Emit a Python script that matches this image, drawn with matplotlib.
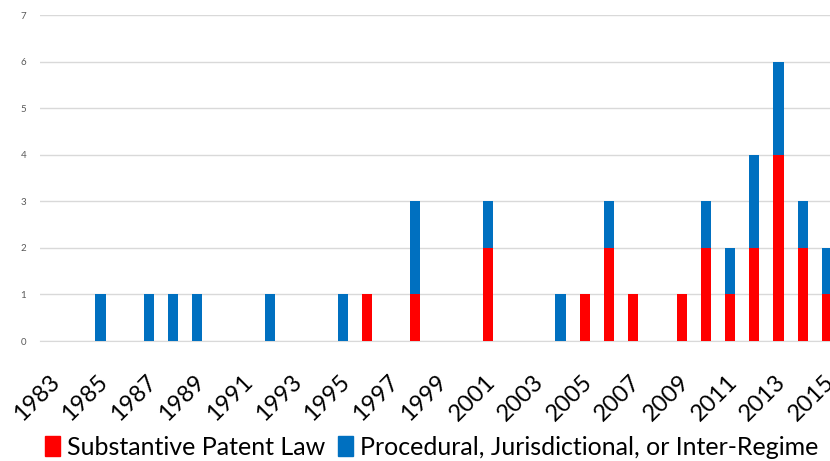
import matplotlib
matplotlib.use("Agg")
import matplotlib.pyplot as plt
import numpy as np
from matplotlib.patches import Patch
from matplotlib.transforms import ScaledTranslation

years = list(range(1983, 2016))
substantive = {1996: 1, 1998: 1, 2001: 2, 2005: 1, 2006: 2, 2007: 1, 2009: 1,
               2010: 2, 2011: 1, 2012: 2, 2013: 4, 2014: 2, 2015: 1}
procedural = {1985: 1, 1987: 1, 1988: 1, 1989: 1, 1992: 1, 1995: 1, 1998: 2,
              2001: 1, 2004: 1, 2006: 1, 2010: 1, 2011: 1, 2012: 2, 2013: 2,
              2014: 1, 2015: 1}
red_vals = np.array([substantive.get(y, 0) for y in years])
blue_vals = np.array([procedural.get(y, 0) for y in years])
xtick_labels = [str(y) for y in years[::2]]
series_names = ["Substantive Patent Law", "Procedural, Jurisdictional, or Inter-Regime"]

RED = "#FF0000"
BLUE = "#0070C0"
font = ["Lato", "DejaVu Sans"]

fig = plt.figure(figsize=(8.30, 4.61), dpi=100)
ax = fig.add_axes([40/830, 120/461, 799/830, 326/461])

x = np.arange(len(years))
ax.bar(x, red_vals, width=0.42, color=RED, zorder=3)
ax.bar(x, blue_vals, width=0.42, bottom=red_vals, color=BLUE, zorder=3)

ax.set_xlim(-0.5, len(years) - 0.5)
ax.set_ylim(0, 7)
ax.set_yticks(range(0, 8))
ax.yaxis.grid(True, color="#d9d9d9", linewidth=1, zorder=0)
ax.set_axisbelow(True)
for s in ["top", "right", "left"]:
    ax.spines[s].set_visible(False)
ax.spines["bottom"].set_color("#d9d9d9")
ax.tick_params(axis="both", length=0)
ax.tick_params(axis="y", labelsize=7, labelcolor="#595959", pad=10)
for lbl in ax.get_yticklabels():
    lbl.set_family(font)

ax.set_xticks(x[::2])
ax.set_xticklabels(xtick_labels, rotation=45, ha="right", va="center",
                   rotation_mode="anchor", fontsize=17, family=font, color="black")
ax.tick_params(axis="x", pad=27)
shift = ScaledTranslation(4/100, 0, fig.dpi_scale_trans)
for lbl in ax.get_xticklabels():
    lbl.set_transform(lbl.get_transform() + shift)

handles = [Patch(color=RED), Patch(color=BLUE)]
fig.legend(handles, series_names, loc="center", bbox_to_anchor=(0.52, 0.03),
           ncol=2, frameon=False, prop={"family": font, "size": 18},
           handlelength=0.6, handleheight=0.8, handletextpad=0.3, columnspacing=0.5)

fig.savefig("out.png", dpi=100)
